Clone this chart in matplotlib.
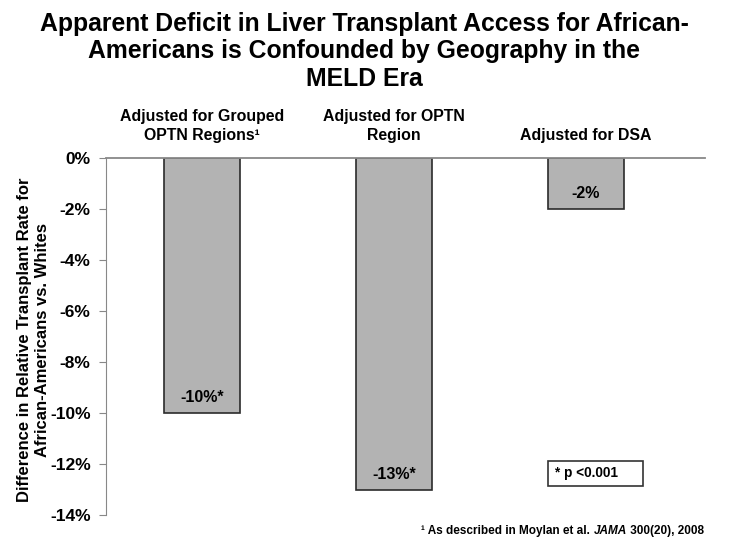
import matplotlib.pyplot as plt
from matplotlib.patches import Rectangle

plt.rcParams['font.family'] = ['Liberation Sans', 'DejaVu Sans']

# data
categories = ["Adjusted for Grouped\nOPTN Regions\u00b9", "Adjusted for OPTN\nRegion", "Adjusted for DSA"]
values = [-10, -13, -2]
bar_labels = ["-10%*", "-13%*", "-2%"]
yticks = [0, -2, -4, -6, -8, -10, -12, -14]

fig = plt.figure(figsize=(7.29, 5.42), dpi=100)
ax = fig.add_axes([0.1454, 0.0498, 0.8216, 0.6587])

x = list(range(len(values)))
ax.bar(x, values, width=0.4, color="#b3b3b3", edgecolor="#2b2b2b", linewidth=1.2, zorder=2)

ax.set_xlim(-0.5, 2.62)
ax.set_ylim(-14, 0)
ax.set_yticks(yticks)
ax.set_yticklabels([f"{t}%" for t in yticks], fontsize=12.5, fontweight="bold")
ax.tick_params(axis="y", direction="out", length=5, color="#888888", pad=6)
ax.set_xticks([])

for s in ["right", "bottom"]:
    ax.spines[s].set_visible(False)
ax.spines["left"].set_color("#888888")
ax.spines["top"].set_color("#888888")
ax.spines["top"].set_linewidth(1.3)

# category headings above the zero line
for xi, cat in zip(x, categories):
    ax.text(xi, 0.6, cat, ha="center", va="bottom", fontsize=11.4, fontweight="bold",
            linespacing=1.3)

# value labels inside the bars, near the bottom
for xi, v, lab in zip(x, values, bar_labels):
    ax.text(xi, v + 0.3, lab, ha="center", va="bottom", fontsize=11.5, fontweight="bold")

# significance box
ax.add_patch(Rectangle((1.80, -12.86), 0.497, 0.98, fc="white", ec="#333333", lw=1.2, zorder=3))
ax.text(1.84, -12.37, "* p <0.001", ha="left", va="center", fontsize=9.8, fontweight="bold",
        zorder=4)

ax.set_ylabel("Difference in Relative Transplant Rate for\nAfrican-Americans vs. Whites",
              fontsize=12, fontweight="bold", linespacing=1.25)
ax.yaxis.set_label_coords(-0.094, 0.49)

fig.text(0.5, 0.978, "Apparent Deficit in Liver Transplant Access for African-\n"
         "Americans is Confounded by Geography in the\nMELD Era",
         ha="center", va="top", fontsize=17.8, fontweight="bold", linespacing=1.18)

# footnote with italic journal name
fy = 0.015
t1 = fig.text(0.578, fy, "\u00b9 As described in Moylan et al. ", ha="left", va="baseline",
              fontsize=8.5, fontweight="bold")
t2 = fig.text(0, 0, "JAMA", fontsize=8.5, fontweight="bold", style="italic", va="baseline")
t3 = fig.text(0, 0, " 300(20), 2008", fontsize=8.5, fontweight="bold", va="baseline")
fig.canvas.draw()
r = fig.canvas.get_renderer()
bb1 = t1.get_window_extent(r)
t2.set_position((bb1.x1 / fig.bbox.width, fy))
fig.canvas.draw()
bb2 = t2.get_window_extent(r)
t3.set_position((bb2.x1 / fig.bbox.width, fy))

fig.savefig("out.png", dpi=100)
